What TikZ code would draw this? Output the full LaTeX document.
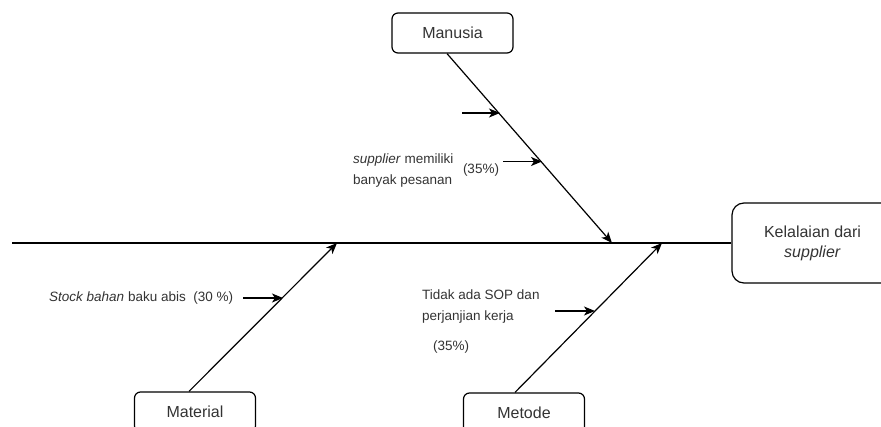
\documentclass[tikz,border=0pt]{standalone}
\usepackage{fontspec}
\setmainfont{Liberation Sans}
\usetikzlibrary{arrows.meta,positioning}

\begin{document}
\begin{tikzpicture}[x=1pt, y=-1pt,
        cause/.style={draw, line width=1.2pt, rounded corners=6pt, minimum width=121pt, minimum height=40pt, inner sep=0pt, font=\fontsize{16}{20}\selectfont, text=black!80},
        effect/.style={draw, line width=1.2pt, rounded corners=12pt, minimum width=161pt, minimum height=80pt, inner sep=0pt, align=center, font=\fontsize{16}{20}\selectfont, text=black!80},
        note/.style={inner sep=0pt, align=left, font=\fontsize{13.5}{21}\selectfont, text=black!80},
        bone/.style={-{Stealth[length=11pt,width=9pt,inset=3pt]}, line width=1.2pt}
      ]
      \clip (0,0) rectangle (881,427);
      % head and spine
      \node[effect] (eff) at (812.5,243) {Kelalaian dari\\\textit{supplier}};
      \coordinate (tail) at (12,243);
      \draw[line width=1.2pt] (tail) -- (eff.west);
      \coordinate (mtip) at (612,243);
      \coordinate (atip) at (337,243);
      \coordinate (dtip) at (662,243);
      % causes
      \node[cause] (man) at (452.5,33) {Manusia};
      \node[cause] (mat) at (195,412) {Material};
      \node[cause] (met) at (524,413) {Metode};
      \draw[bone] ([xshift=-5.5pt]man.south) -- (mtip);
      \draw[bone] ([xshift=-6pt]mat.north) -- (atip);
      \draw[bone] ([xshift=-9pt]met.north) -- (dtip);
      % sub causes
      \coordinate (m1) at (462,113);   \coordinate (m1t) at (500,113);
      \coordinate (m2) at (503,161.5); \coordinate (m2t) at (542,161.5);
      \coordinate (a1) at (243,298);   \coordinate (a1t) at (283,298);
      \coordinate (d1) at (555,311);   \coordinate (d1t) at (595,311);
      \draw[bone] (m1) -- (m1t);
      \draw[bone] (m2) -- (m2t);
      \draw[bone] (a1) -- (a1t);
      \draw[bone] (d1) -- (d1t);
      \node[note, anchor=west] (mtxt) at (353,171) {\textit{supplier} memiliki\\banyak pesanan};
      \node[note] (mpct) at (481,170) {(35\%)};
      \node[note, anchor=west] (atxt) at (49,298) {\textit{Stock bahan} baku abis~~(30~\%)};
      \node[note, anchor=west] (dtxt) at (422,306.5) {Tidak ada SOP dan\\perjanjian kerja};
      \node[note, anchor=west] (dpct) at (433,347) {(35\%)};
    \end{tikzpicture}
\end{document}
